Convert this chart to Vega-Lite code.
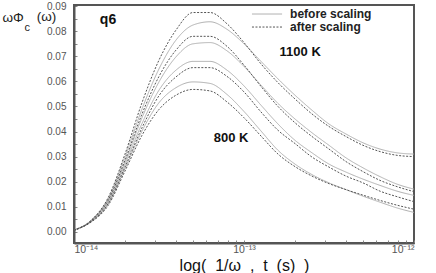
{
  "$schema": "https://vega.github.io/schema/vega-lite/v6.json",
  "autosize": "none",
  "width": 340,
  "height": 238,
  "padding": {"left": 74, "top": 5, "right": 22, "bottom": 30},
  "background": "white",
  "config": {
    "view": {"stroke": "#555555", "strokeWidth": 2},
    "font": "Liberation Sans",
    "axis": {"labelOverlap": false}
  },
  "data": {
    "values": [
      {"t": 1e-14, "A_d": 0.0005, "A_s": 0.0006, "B_d": 0.0005, "B_s": 0.0006, "C_s": 0.0007, "C_d": 0.0006, "D_s": 0.0008, "D_d": 0.0007},
      {"t": 1.259e-14, "A_d": 0.0045, "A_s": 0.0045, "B_d": 0.0043, "B_s": 0.0043, "C_s": 0.0042, "C_d": 0.004, "D_s": 0.004, "D_d": 0.0038},
      {"t": 1.585e-14, "A_d": 0.0135, "A_s": 0.013, "B_d": 0.0125, "B_s": 0.0122, "C_s": 0.0118, "C_d": 0.0112, "D_s": 0.011, "D_d": 0.0104},
      {"t": 1.995e-14, "A_d": 0.031, "A_s": 0.0298, "B_d": 0.0285, "B_s": 0.0278, "C_s": 0.0268, "C_d": 0.0258, "D_s": 0.0252, "D_d": 0.0242},
      {"t": 2.512e-14, "A_d": 0.0515, "A_s": 0.049, "B_d": 0.047, "B_s": 0.0455, "C_s": 0.0432, "C_d": 0.0415, "D_s": 0.0402, "D_d": 0.0385},
      {"t": 3.162e-14, "A_d": 0.0685, "A_s": 0.065, "B_d": 0.062, "B_s": 0.0598, "C_s": 0.0565, "C_d": 0.0543, "D_s": 0.0515, "D_d": 0.0488},
      {"t": 3.981e-14, "A_d": 0.0805, "A_s": 0.0765, "B_d": 0.0725, "B_s": 0.0698, "C_s": 0.0645, "C_d": 0.0618, "D_s": 0.0575, "D_d": 0.0545},
      {"t": 5.012e-14, "A_d": 0.0875, "A_s": 0.0825, "B_d": 0.078, "B_s": 0.075, "C_s": 0.068, "C_d": 0.0655, "D_s": 0.0598, "D_d": 0.0568},
      {"t": 6.310e-14, "A_d": 0.0875, "A_s": 0.0838, "B_d": 0.078, "B_s": 0.0755, "C_s": 0.068, "C_d": 0.0655, "D_s": 0.0592, "D_d": 0.0562},
      {"t": 7.943e-14, "A_d": 0.083, "A_s": 0.0808, "B_d": 0.074, "B_s": 0.0722, "C_s": 0.0645, "C_d": 0.062, "D_s": 0.0548, "D_d": 0.0518},
      {"t": 1e-13, "A_d": 0.0755, "A_s": 0.075, "B_d": 0.0665, "B_s": 0.066, "C_s": 0.0582, "C_d": 0.0558, "D_s": 0.048, "D_d": 0.0455},
      {"t": 1.259e-13, "A_d": 0.067, "A_s": 0.068, "B_d": 0.058, "B_s": 0.0585, "C_s": 0.0505, "C_d": 0.0478, "D_s": 0.0402, "D_d": 0.0382},
      {"t": 1.585e-13, "A_d": 0.0595, "A_s": 0.061, "B_d": 0.050, "B_s": 0.0512, "C_s": 0.043, "C_d": 0.0405, "D_s": 0.0325, "D_d": 0.031},
      {"t": 1.995e-13, "A_d": 0.053, "A_s": 0.0545, "B_d": 0.0435, "B_s": 0.045, "C_s": 0.0365, "C_d": 0.0352, "D_s": 0.027, "D_d": 0.026},
      {"t": 2.512e-13, "A_d": 0.047, "A_s": 0.0485, "B_d": 0.038, "B_s": 0.0395, "C_s": 0.0315, "C_d": 0.0298, "D_s": 0.0228, "D_d": 0.0222},
      {"t": 3.162e-13, "A_d": 0.042, "A_s": 0.043, "B_d": 0.033, "B_s": 0.0345, "C_s": 0.027, "C_d": 0.0258, "D_s": 0.0195, "D_d": 0.0192},
      {"t": 3.981e-13, "A_d": 0.038, "A_s": 0.039, "B_d": 0.028, "B_s": 0.0295, "C_s": 0.0238, "C_d": 0.0222, "D_s": 0.0168, "D_d": 0.0168},
      {"t": 5.012e-13, "A_d": 0.0345, "A_s": 0.0355, "B_d": 0.024, "B_s": 0.0255, "C_s": 0.021, "C_d": 0.0195, "D_s": 0.0142, "D_d": 0.0146},
      {"t": 6.310e-13, "A_d": 0.032, "A_s": 0.033, "B_d": 0.0205, "B_s": 0.022, "C_s": 0.0185, "C_d": 0.0162, "D_s": 0.0118, "D_d": 0.0125},
      {"t": 7.943e-13, "A_d": 0.0305, "A_s": 0.0315, "B_d": 0.018, "B_s": 0.019, "C_s": 0.0162, "C_d": 0.014, "D_s": 0.0095, "D_d": 0.0106},
      {"t": 1e-12, "A_d": 0.030, "A_s": 0.031, "B_d": 0.016, "B_s": 0.017, "C_s": 0.0145, "C_d": 0.012, "D_s": 0.0077, "D_d": 0.009}
    ]
  },
  "encoding": {
    "x": {
      "field": "t", "type": "quantitative",
      "scale": {"type": "log", "domain": [1e-14, 1e-12], "nice": false},
      "axis": {
        "title": "log(\u00a0 1/ω\u00a0 ,\u00a0 t\u00a0 (s)\u00a0 )",
        "titleFontSize": 16, "titleFontWeight": "normal", "titleColor": "#111",
        "titlePadding": 3,
        "values": [1e-14, 2e-14, 3e-14, 4e-14, 5e-14, 6e-14, 7e-14, 8e-14, 9e-14, 1e-13, 2e-13, 3e-13, 4e-13, 5e-13, 6e-13, 7e-13, 8e-13, 9e-13, 1e-12],
        "labelExpr": "datum.value < 1.5e-14 ? '10⁻¹⁴' : (abs(datum.value - 1e-13) < 1e-15 ? '10⁻¹³' : (datum.value > 0.95e-12 ? '10⁻¹²' : ''))",
        "labelOverlap": false,
        "labelFontSize": 10.5, "labelColor": "#555", "labelPadding": 4,
        "tickSize": -3, "tickColor": "#888",
        "domainColor": "#555", "domainWidth": 2,
        "grid": false
      }
    },
    "y": {
      "field": "value", "type": "quantitative",
      "scale": {"domain": [-0.0045, 0.0905], "nice": false, "zero": false},
      "axis": {
        "title": "ωΦ",
        "titleAngle": 0, "titleAlign": "left", "titleBaseline": "middle",
        "titleX": -72, "titleY": 12,
        "titleFontSize": 13.5, "titleFontWeight": "normal", "titleColor": "#222",
        "values": [0, 0.005, 0.01, 0.015, 0.02, 0.025, 0.03, 0.035, 0.04, 0.045, 0.05, 0.055, 0.06, 0.065, 0.07, 0.075, 0.08, 0.085, 0.09],
        "labelExpr": "abs(datum.value*100 - round(datum.value*100)) < 0.01 ? format(datum.value, '.2f') : ''",
        "labelOverlap": false,
        "labelFontSize": 10, "labelColor": "#555", "labelPadding": 11,
        "tickSize": -3, "tickColor": "#888",
        "domainColor": "#555", "domainWidth": 2,
        "grid": false
      }
    }
  },
  "layer": [
    {
      "transform": [{"fold": ["A_s", "B_s", "C_s", "D_s"], "as": ["key", "value"]}],
      "mark": {"type": "line", "strokeWidth": 1, "interpolate": "monotone"},
      "encoding": {
        "detail": {"field": "key"},
        "color": {"datum": "before scaling", "type": "nominal", "scale": {"domain": ["before scaling", "after scaling"], "range": ["#b0b0b0", "#555555"]}, "legend": null},
        "strokeDash": {"datum": "before scaling", "type": "nominal", "scale": {"domain": ["before scaling", "after scaling"], "range": [[1, 0], [2, 1.5]]}, "legend": null}
      }
    },
    {
      "transform": [{"fold": ["A_d", "B_d", "C_d", "D_d"], "as": ["key", "value"]}],
      "mark": {"type": "line", "strokeWidth": 1, "interpolate": "monotone"},
      "encoding": {
        "detail": {"field": "key"},
        "color": {"datum": "after scaling", "type": "nominal"},
        "strokeDash": {"datum": "after scaling", "type": "nominal"}
      }
    },
    {
      "data": {
        "values": [
          {"t": 1.114e-13, "t2": 1.675e-13, "value": 0.0869, "type": "before scaling"},
          {"t": 1.114e-13, "t2": 1.675e-13, "value": 0.0817, "type": "after scaling"}
        ]
      },
      "mark": {"type": "rule", "strokeWidth": 1},
      "encoding": {
        "x2": {"field": "t2"},
        "color": {"field": "type", "type": "nominal"},
        "strokeDash": {"field": "type", "type": "nominal"}
      }
    },
    {
      "data": {
        "values": [
          {"t": 1.866e-13, "value": 0.0869, "label": "before scaling"},
          {"t": 1.866e-13, "value": 0.0817, "label": "after scaling"}
        ]
      },
      "mark": {"type": "text", "color": "#222", "fontWeight": "bold", "fontSize": 12, "align": "left", "baseline": "middle"},
      "encoding": {
        "text": {"field": "label"}
      }
    },
    {
      "data": {
        "values": [
          {"t": 1.585e-14, "value": 0.0845, "label": "q6", "size": 14},
          {"t": 2.14e-13, "value": 0.0717, "label": "1100 K", "size": 13},
          {"t": 8.4e-14, "value": 0.0375, "label": "800 K", "size": 13}
        ]
      },
      "mark": {"type": "text", "color": "#111", "fontWeight": "bold"},
      "encoding": {
        "text": {"field": "label"},
        "size": {"field": "size", "type": "quantitative", "scale": null}
      }
    },
    {
      "data": {"values": [
        {"t": 5.3e-15, "value": 0.0815, "label": "c", "size": 11},
        {"t": 6.9e-15, "value": 0.0857, "label": "(ω)", "size": 13.5}
      ]},
      "mark": {"type": "text", "color": "#222", "clip": false},
      "encoding": {
        "text": {"field": "label"},
        "size": {"field": "size", "type": "quantitative", "scale": null}
      }
    }
  ]
}
